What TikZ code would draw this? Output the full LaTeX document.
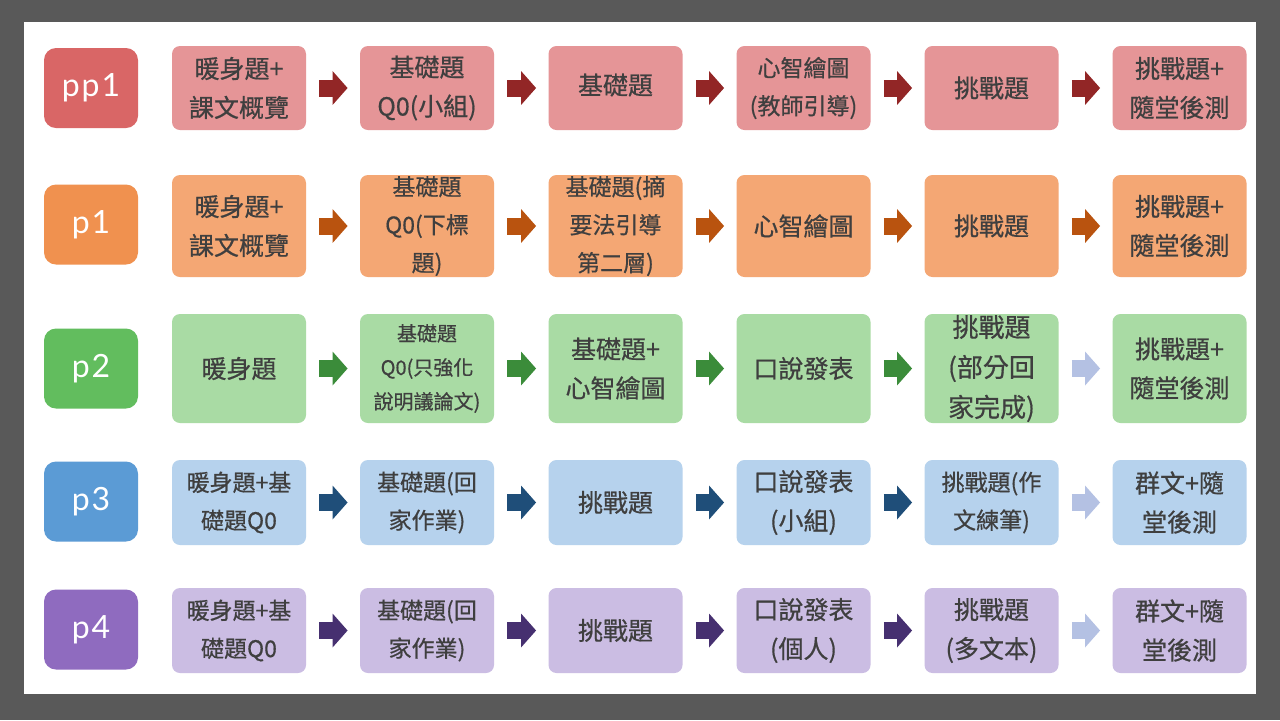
\documentclass[tikz,border=0pt]{standalone}
\usepackage{fontspec}
\setmainfont{Noto Sans CJK TC}[FakeBold=0.6]
\newfontfamily\labelfont{Lato}[LetterSpace=6]
\usetikzlibrary{arrows.meta}

\definecolor{frame}{HTML}{595959}
\definecolor{txt}{HTML}{3F3F3F}
\definecolor{redlab}{HTML}{D96666}
\definecolor{redbox}{HTML}{E59597}
\definecolor{redarr}{HTML}{922626}
\definecolor{orglab}{HTML}{F0914F}
\definecolor{orgbox}{HTML}{F4A774}
\definecolor{orgarr}{HTML}{B9530F}
\definecolor{grnlab}{HTML}{62BD5E}
\definecolor{grnbox}{HTML}{A9DBA4}
\definecolor{grnarr}{HTML}{3B8C3A}
\definecolor{blulab}{HTML}{5B9BD5}
\definecolor{blubox}{HTML}{B6D2ED}
\definecolor{bluarr}{HTML}{1F4E79}
\definecolor{purlab}{HTML}{8F6BBF}
\definecolor{purbox}{HTML}{CBBDE3}
\definecolor{purarr}{HTML}{463070}
\definecolor{lightarr}{HTML}{B4C1E3}

\tikzset{
	rowlabel/.style={rounded corners=6pt, minimum width=47pt, minimum height=40pt, inner sep=0pt,
		text=white, font=\labelfont\fontsize{16}{18}\selectfont},
	stepbox/.style={rounded corners=4pt, minimum width=67pt, inner sep=0pt, align=center,
		text=txt, font=\fontsize{12.5}{19.5}\selectfont},
	small/.style={font=\fontsize{11.5}{19}\selectfont},
	tiny/.style={font=\fontsize{10}{17}\selectfont},
	flow/.style={line width=8.5pt, -{Triangle[length=7.5pt, width=16.5pt]}},
}
\newcommand{\flowarrow}[3]{\draw[flow, #1] ([xshift=6.5pt]#2.east) -- ([xshift=-6pt]#3.west);}

\begin{document}
\begin{tikzpicture}[x=0.5pt, y=-0.5pt]
	% frame
	\fill[frame] (0,0) rectangle (1280,720);
	\fill[white] (24,22) rectangle (1256,694);

	% row pp1
	\node[rowlabel, fill=redlab] (lab1) at (91,88) {pp1};
	\node[stepbox, fill=redbox, minimum height=42pt] (a1) at (239,88) {暖身題+\\課文概覽};
	\node[stepbox, fill=redbox, minimum height=42pt] (a2) at (427,88) {基礎題\\Q0(小組)};
	\node[stepbox, fill=redbox, minimum height=42pt] (a3) at (615.5,88) {\raisebox{4pt}{基礎題}};
	\node[stepbox, fill=redbox, minimum height=42pt, small] (a4) at (803.5,88) {心智繪圖\\(教師引導)};
	\node[stepbox, fill=redbox, minimum height=42pt] (a5) at (991.5,88) {挑戰題};
	\node[stepbox, fill=redbox, minimum height=42pt] (a6) at (1179.5,88) {挑戰題+\\隨堂後測};
	\flowarrow{redarr}{a1}{a2}
	\flowarrow{redarr}{a2}{a3}
	\flowarrow{redarr}{a3}{a4}
	\flowarrow{redarr}{a4}{a5}
	\flowarrow{redarr}{a5}{a6}

	% row p1
	\node[rowlabel, fill=orglab] (lab2) at (91,224.5) {p1};
	\node[stepbox, fill=orgbox, minimum height=51pt] (b1) at (239,226) {暖身題+\\課文概覽};
	\node[stepbox, fill=orgbox, minimum height=51pt, small] (b2) at (427,226) {基礎題\\Q0(下標\\題)};
	\node[stepbox, fill=orgbox, minimum height=51pt, small] (b3) at (615.5,226) {基礎題(摘\\要法引導\\第二層)};
	\node[stepbox, fill=orgbox, minimum height=51pt] (b4) at (803.5,226) {心智繪圖};
	\node[stepbox, fill=orgbox, minimum height=51pt] (b5) at (991.5,226) {挑戰題};
	\node[stepbox, fill=orgbox, minimum height=51pt] (b6) at (1179.5,226) {挑戰題+\\隨堂後測};
	\flowarrow{orgarr}{b1}{b2}
	\flowarrow{orgarr}{b2}{b3}
	\flowarrow{orgarr}{b3}{b4}
	\flowarrow{orgarr}{b4}{b5}
	\flowarrow{orgarr}{b5}{b6}

	% row p2
	\node[rowlabel, fill=grnlab] (lab3) at (91,368.5) {p2};
	\node[stepbox, fill=grnbox, minimum height=54.5pt] (c1) at (239,368.5) {暖身題};
	\node[stepbox, fill=grnbox, minimum height=54.5pt, tiny] (c2) at (427,368.5) {基礎題\\Q0(只強化\\說明議論文)};
	\node[stepbox, fill=grnbox, minimum height=54.5pt] (c3) at (615.5,368.5) {基礎題+\\心智繪圖};
	\node[stepbox, fill=grnbox, minimum height=54.5pt] (c4) at (803.5,368.5) {口說發表};
	\node[stepbox, fill=grnbox, minimum height=54.5pt, font=\fontsize{13}{20}\selectfont] (c5) at (991.5,368.5) {挑戰題\\(部分回\\家完成)};
	\node[stepbox, fill=grnbox, minimum height=54.5pt] (c6) at (1179.5,368.5) {挑戰題+\\隨堂後測};
	\flowarrow{grnarr}{c1}{c2}
	\flowarrow{grnarr}{c2}{c3}
	\flowarrow{grnarr}{c3}{c4}
	\flowarrow{grnarr}{c4}{c5}
	\flowarrow{lightarr}{c5}{c6}

	% row p3
	\node[rowlabel, fill=blulab] (lab4) at (91,501.5) {p3};
	\node[stepbox, fill=blubox, minimum height=42.5pt, small] (d1) at (239,502.5) {暖身題+基\\礎題Q0};
	\node[stepbox, fill=blubox, minimum height=42.5pt, small] (d2) at (427,502.5) {基礎題(回\\家作業)};
	\node[stepbox, fill=blubox, minimum height=42.5pt] (d3) at (615.5,502.5) {挑戰題};
	\node[stepbox, fill=blubox, minimum height=42.5pt] (d4) at (803.5,502.5) {口說發表\\(小組)};
	\node[stepbox, fill=blubox, minimum height=42.5pt, small] (d5) at (991.5,502.5) {挑戰題(作\\文練筆)};
	\node[stepbox, fill=blubox, minimum height=42.5pt] (d6) at (1179.5,502.5) {群文+隨\\堂後測};
	\flowarrow{bluarr}{d1}{d2}
	\flowarrow{bluarr}{d2}{d3}
	\flowarrow{bluarr}{d3}{d4}
	\flowarrow{bluarr}{d4}{d5}
	\flowarrow{lightarr}{d5}{d6}

	% row p4
	\node[rowlabel, fill=purlab] (lab5) at (91,629.5) {p4};
	\node[stepbox, fill=purbox, minimum height=42.5pt, small] (e1) at (239,630.5) {暖身題+基\\礎題Q0};
	\node[stepbox, fill=purbox, minimum height=42.5pt, small] (e2) at (427,630.5) {基礎題(回\\家作業)};
	\node[stepbox, fill=purbox, minimum height=42.5pt] (e3) at (615.5,630.5) {挑戰題};
	\node[stepbox, fill=purbox, minimum height=42.5pt] (e4) at (803.5,630.5) {口說發表\\(個人)};
	\node[stepbox, fill=purbox, minimum height=42.5pt] (e5) at (991.5,630.5) {挑戰題\\(多文本)};
	\node[stepbox, fill=purbox, minimum height=42.5pt] (e6) at (1179.5,630.5) {群文+隨\\堂後測};
	\flowarrow{purarr}{e1}{e2}
	\flowarrow{purarr}{e2}{e3}
	\flowarrow{purarr}{e3}{e4}
	\flowarrow{purarr}{e4}{e5}
	\flowarrow{lightarr}{e5}{e6}
\end{tikzpicture}
\end{document}
